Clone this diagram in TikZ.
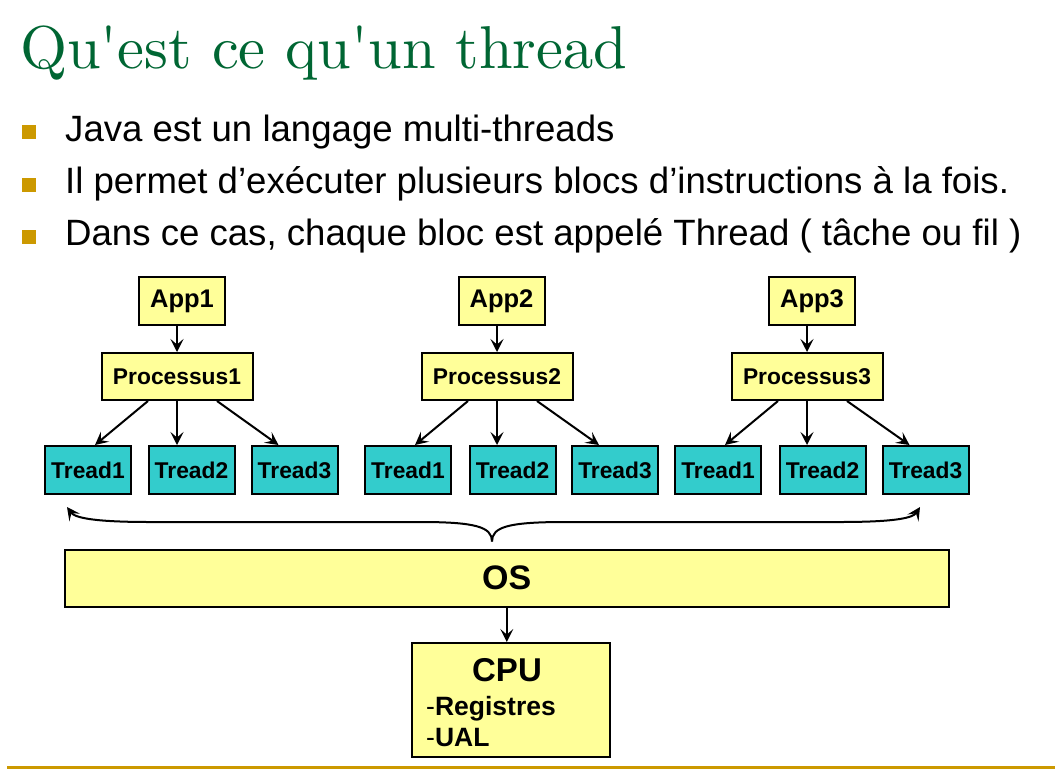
\documentclass[tikz,border=0pt]{standalone}
\usepackage{fontspec}
\setsansfont{Liberation Sans}
\newfontfamily\titlefont{lmroman10-regular.otf}[Ligatures=TeXOff]
\usetikzlibrary{arrows.meta,shadows}
\definecolor{titlegreen}{RGB}{0,102,51}
\definecolor{gold}{RGB}{204,153,0}
\definecolor{paleyellow}{RGB}{255,255,153}
\definecolor{threadcyan}{RGB}{51,204,204}
\begin{document}
\begin{tikzpicture}[x=1pt,y=-1pt,
  box/.style={draw=black, line width=2pt, inner sep=0pt, anchor=center,
    drop shadow={shadow xshift=1.2pt, shadow yshift=-1.2pt, fill=black!70, opacity=.7}},
  appbox/.style={box, fill=paleyellow, minimum width=86pt, minimum height=48pt,
    font=\sffamily\bfseries\fontsize{25.5}{28}\selectfont},
  procbox/.style={box, fill=paleyellow, minimum width=151pt, minimum height=47pt,
    font=\sffamily\bfseries\fontsize{22.8}{25}\selectfont},
  threadbox/.style={box, fill=threadcyan, minimum width=86pt, minimum height=48pt,
    font=\sffamily\bfseries\fontsize{22.8}{25}\selectfont},
  conn/.style={-{Stealth[length=13pt,width=13pt,inset=5.5pt]}, line width=2pt},
  bulletsq/.style={fill=gold, minimum size=14pt, inner sep=0pt},
  bullettext/.style={anchor=base west, inner sep=0pt,
    font=\sffamily\fontsize{36.6}{40}\selectfont},
]
\useasboundingbox (0,0) rectangle (1055,769);

% heading
\node[anchor=base west, inner sep=0pt, text=titlegreen,
  font=\titlefont\fontsize{60.5}{66}\selectfont] (title) at (20,68) {Qu'est ce qu'un thread};

% bullet list
\node[bulletsq] (b1) at (29,132) {};
\node[bulletsq] (b2) at (29,185) {};
\node[bulletsq] (b3) at (29,236.5) {};
\node[bullettext] (l1) at (65,141.7) {Java est un langage multi-threads};
\node[bullettext] (l2) at (65,193.5) {Il permet d’exécuter plusieurs blocs d’instructions à la fois.};
\node[bullettext] (l3) at (65,245.5) {Dans ce cas, chaque bloc est appelé Thread ( tâche ou fil )};

% applications
\node[appbox] (app1) at (182,301) {App1};
\node[appbox] (app2) at (501.5,301) {App2};
\node[appbox] (app3) at (812,301) {App3};

% processes
\node[procbox] (p1) at (177,376.5) {Processus1};
\node[procbox] (p2) at (497,376.5) {Processus2};
\node[procbox] (p3) at (807,376.5) {Processus3};

% threads
\node[threadbox] (t1a) at (88,470) {Tread1};
\node[threadbox] (t1b) at (191.5,470) {Tread2};
\node[threadbox] (t1c) at (294.5,470) {Tread3};
\node[threadbox] (t2a) at (408,470) {Tread1};
\node[threadbox] (t2b) at (512.5,470) {Tread2};
\node[threadbox] (t2c) at (615,470) {Tread3};
\node[threadbox] (t3a) at (718,470) {Tread1};
\node[threadbox] (t3b) at (822.5,470) {Tread2};
\node[threadbox] (t3c) at (925.5,470) {Tread3};

% operating system and processor
\node[box, fill=paleyellow, minimum width=884pt, minimum height=57pt,
  font=\sffamily\bfseries\fontsize{34}{37}\selectfont] (os) at (506.8,578) {OS};
\node[box, fill=paleyellow, minimum width=198pt, minimum height=114pt] (cpu) at (511,700) {};
\node[anchor=base, inner sep=0pt, font=\sffamily\bfseries\fontsize{33}{36}\selectfont]
  (cputitle) at (507,681.7) {CPU};
\node[anchor=base west, inner sep=0pt, font=\sffamily\bfseries\fontsize{26.5}{29}\selectfont]
  (reg) at (426,715) {\textmd{-}Registres};
\node[anchor=base west, inner sep=0pt, font=\sffamily\bfseries\fontsize{26.5}{29}\selectfont]
  (ual) at (426,746.7) {\textmd{-}UAL};

% application -> process
\foreach \a/\p in {app1/p1, app2/p2, app3/p3}
  \draw[conn] (\p.north |- \a.south) -- (\p.north);

% process -> threads
\foreach \p/\ta/\tb/\tc in {p1/t1a/t1b/t1c, p2/t2a/t2b/t2c, p3/t3a/t3b/t3c}{
  \draw[conn] ([xshift=-29pt]\p.south) -- ([xshift=7pt]\ta.north);
  \draw[conn] (\p.south) -- (\p.south |- \tb.north);
  \draw[conn] ([xshift=40pt]\p.south) -- ([xshift=-16pt]\tc.north);
}

% brace from the OS spanning all threads
\coordinate (bracetip) at (492,541.5);
\coordinate (leftend) at (67,507);
\coordinate (rightend) at (920,507);
\draw[conn] (bracetip) .. controls (492,527) and (476,522) .. (420,522)
  -- (150,522) .. controls (95,522) and (75,518) .. (leftend);
\draw[conn] (bracetip) .. controls (492,527) and (508,522) .. (565,522)
  -- (840,522) .. controls (895,522) and (913,518) .. (rightend);

% OS -> CPU
\draw[conn] (os.south) -- (os.south |- cpu.north);

% footer rule
\draw[gold, line width=2.5pt] (7,767.5) -- (1055,767.5);
\end{tikzpicture}
\end{document}
